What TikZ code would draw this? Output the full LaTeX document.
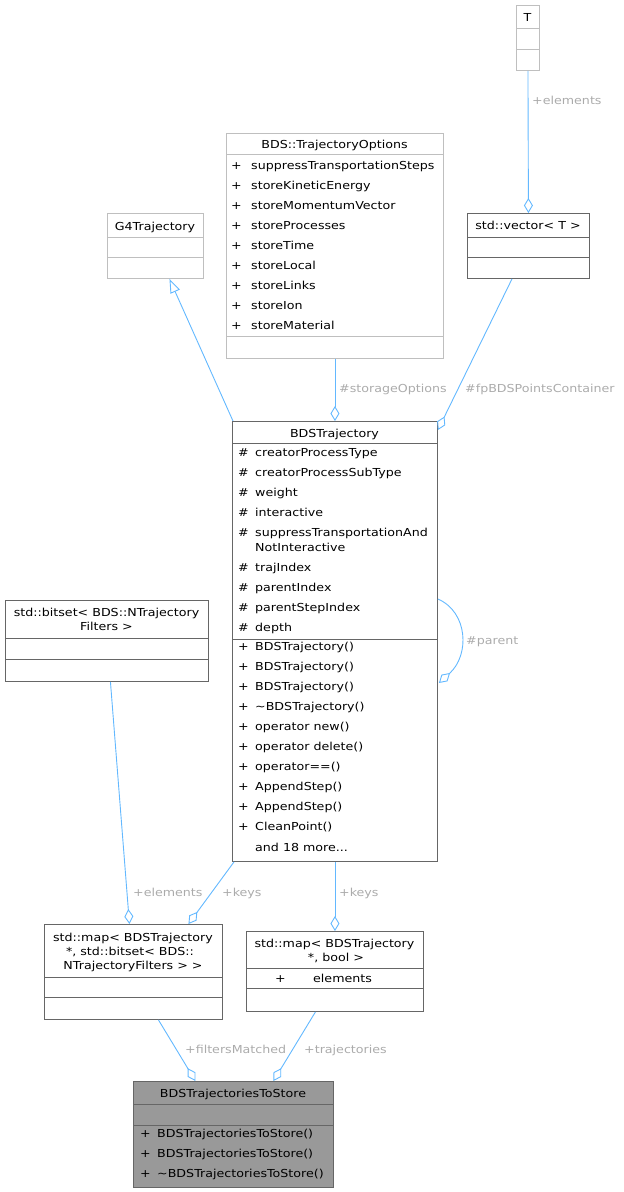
\documentclass[tikz,border=0pt]{standalone}
\usepackage{fontspec}
\newfontfamily\dv[FakeStretch=1.15]{DejaVu Sans}
\usetikzlibrary{arrows.meta,calc}
\definecolor{edgec}{HTML}{63B8FF}
\definecolor{lblc}{HTML}{ABABAB}
\definecolor{bdark}{HTML}{666666}
\definecolor{blight}{HTML}{BFBFBF}
\definecolor{selc}{HTML}{999999}
\begin{document}
\begin{tikzpicture}[x=1pt,y=-1pt,
  txt/.style={inner sep=0pt, font=\dv\fontsize{11}{13}\selectfont, text=black},
  fld/.style={txt, anchor=base west},
  ttl/.style={txt, anchor=base},
  lbl/.style={inner sep=0pt, font=\dv\fontsize{11}{13}\selectfont, text=lblc, anchor=base west},
  dbox/.style={draw=bdark, line width=0.9pt, inner sep=0pt, anchor=north west, rectangle},
  lbox/.style={dbox, draw=blight},
  dsep/.style={draw=bdark, line width=0.9pt},
  lsep/.style={draw=blight, line width=0.9pt},
  agg/.style={draw=edgec, line width=0.9pt, -{Diamond[open, length=15pt, width=9pt]}},
  inh/.style={draw=edgec, line width=0.9pt, -{Triangle[open, length=14pt, width=10pt]}},
]
\useasboundingbox (0,0) rectangle (624,1192);

% ---------- boxes ----------
\node[lbox, minimum width=23pt, minimum height=65pt] (tbox) at (516,5) {};
\node[dbox, minimum width=122pt, minimum height=65pt] (vec) at (467,213) {};
\node[lbox, minimum width=96pt, minimum height=65pt] (g4) at (107,213) {};
\node[lbox, minimum width=217pt, minimum height=225pt] (opt) at (226,133) {};
\node[dbox, minimum width=205pt, minimum height=440pt] (traj) at (232,421) {};
\node[dbox, minimum width=203pt, minimum height=81pt] (bits) at (5,600) {};
\node[dbox, minimum width=178pt, minimum height=95pt] (mapbs) at (44,924) {};
\node[dbox, minimum width=177pt, minimum height=80pt] (mapbool) at (246,931) {};
\node[dbox, fill=selc, minimum width=200pt, minimum height=106pt] (store) at (133,1081) {};

% ---------- separators ----------
\draw[lsep] (tbox.west |- 0,28) -- (tbox.east |- 0,28);
\draw[lsep] (tbox.west |- 0,49) -- (tbox.east |- 0,49);
\draw[dsep] (vec.west |- 0,237) -- (vec.east |- 0,237);
\draw[dsep] (vec.west |- 0,257) -- (vec.east |- 0,257);
\draw[lsep] (g4.west |- 0,237) -- (g4.east |- 0,237);
\draw[lsep] (g4.west |- 0,257) -- (g4.east |- 0,257);
\draw[lsep] (opt.west |- 0,154) -- (opt.east |- 0,154);
\draw[lsep] (opt.west |- 0,336) -- (opt.east |- 0,336);
\draw[dsep] (traj.west |- 0,443) -- (traj.east |- 0,443);
\draw[dsep] (traj.west |- 0,639) -- (traj.east |- 0,639);
\draw[dsep] (bits.west |- 0,638) -- (bits.east |- 0,638);
\draw[dsep] (bits.west |- 0,659) -- (bits.east |- 0,659);
\draw[dsep] (mapbs.west |- 0,977) -- (mapbs.east |- 0,977);
\draw[dsep] (mapbs.west |- 0,997) -- (mapbs.east |- 0,997);
\draw[dsep] (mapbool.west |- 0,968) -- (mapbool.east |- 0,968);
\draw[dsep] (mapbool.west |- 0,988) -- (mapbool.east |- 0,988);
\draw[dsep] (store.west |- 0,1104) -- (store.east |- 0,1104);
\draw[dsep] (store.west |- 0,1125) -- (store.east |- 0,1125);

% ---------- titles ----------
\node[ttl] (tT) at (527.5,21.5) {T};
\node[ttl] (tV) at (528,229) {std::vector< T >};
\node[ttl] (tG) at (155,230) {G4Trajectory};
\node[ttl] (tO) at (334.5,148) {BDS::TrajectoryOptions};
\node[ttl] (tR) at (334.5,437) {BDSTrajectory};
\node[ttl] (tB1) at (106.5,616) {std::bitset< BDS::NTrajectory};
\node[ttl] (tB2) at (106.5,630) {Filters >};
\node[ttl] (tM1) at (133,941) {std::map< BDSTrajectory};
\node[ttl] (tM2) at (130,955) { *, std::bitset< BDS::};
\node[ttl] (tM3) at (133,969) {NTrajectoryFilters > >};
\node[ttl] (tN1) at (334.5,947) {std::map< BDSTrajectory};
\node[ttl] (tN2) at (336,961) {*, bool >};
\node[ttl] (tS) at (233,1097) {BDSTrajectoriesToStore};

% ---------- TrajectoryOptions fields ----------
\foreach \t [count=\i] in {suppressTransportationSteps,storeKineticEnergy,storeMomentumVector,storeProcesses,storeTime,storeLocal,storeLinks,storeIon,storeMaterial}{
  \node[fld] (op\i) at (231,149+20*\i) {+};
  \node[fld] (on\i) at (251,149+20*\i) {\t};
}

% ---------- BDSTrajectory fields ----------
\node[fld] (rp1) at (238,456.7) {\#}; \node[fld] (rn1) at (255,456.7) {creatorProcessType};
\node[fld] (rp2) at (238,476.7) {\#}; \node[fld] (rn2) at (255,476.7) {creatorProcessSubType};
\node[fld] (rp3) at (238,496.7) {\#}; \node[fld] (rn3) at (255,496.7) {weight};
\node[fld] (rp4) at (238,516.7) {\#}; \node[fld] (rn4) at (255,516.7) {interactive};
\node[fld] (rp5) at (238,536.7) {\#}; \node[fld] (rn5) at (255,536.7) {suppressTransportationAnd};
\node[fld] (rn5b) at (255,551.7) {NotInteractive};
\node[fld] (rp6) at (238,571.7) {\#}; \node[fld] (rn6) at (255,571.7) {trajIndex};
\node[fld] (rp7) at (238,591.7) {\#}; \node[fld] (rn7) at (255,591.7) {parentIndex};
\node[fld] (rp8) at (238,611.7) {\#}; \node[fld] (rn8) at (255,611.7) {parentStepIndex};
\node[fld] (rp9) at (238,631.7) {\#}; \node[fld] (rn9) at (255,631.7) {depth};

\foreach \t [count=\i] in {BDSTrajectory(),BDSTrajectory(),BDSTrajectory(),\textasciitilde BDSTrajectory(),operator new(),operator delete(),operator==(),AppendStep(),AppendStep(),CleanPoint()}{
  \node[fld] (mp\i) at (238,630.7+20*\i) {+};
  \node[fld] (mn\i) at (255,630.7+20*\i) {\t};
}
\node[fld] (more) at (255,851.3) {and 18 more...};

% ---------- map bool field ----------
\node[fld] (bp1) at (275,982) {+};
\node[fld] (bn1) at (313,982) {elements};

% ---------- ToStore methods ----------
\node[fld] (sp1) at (140,1137) {+}; \node[fld] (sn1) at (157,1137) {BDSTrajectoriesToStore()};
\node[fld] (sp2) at (140,1157) {+}; \node[fld] (sn2) at (157,1157) {BDSTrajectoriesToStore()};
\node[fld] (sp3) at (140,1177) {+}; \node[fld] (sn3) at (157,1177) {\textasciitilde BDSTrajectoriesToStore()};

% ---------- connectors ----------
\draw[agg] (tbox.south) -- (vec.north);
\draw[agg] ($(vec.south west)+(45,0)$) -- ($(traj.north east)+(0,9)$);
\draw[agg] (opt.south) -- (traj.north);
\draw[inh] ($(traj.north west)+(1,0)$) -- ($(g4.south)+(14,0)$);
\draw[agg] ($(traj.north east)+(0,178)$) .. controls (468,612) and (470,655) .. ($(traj.north east)+(1,262)$);
\draw[agg] ($(bits.south)+(3.5,0)$) -- ($(mapbs.north)+(-4,0)$);
\draw[agg] ($(traj.south west)+(2,0)$) -- ($(mapbs.north)+(55,0)$);
\draw[agg] (traj.south) -- (mapbool.north);
\draw[agg] ($(mapbs.south)+(25,0)$) -- ($(store.north)+(-38,0)$);
\draw[agg] ($(mapbool.south)+(-19.5,0)$) -- ($(store.north)+(40,0)$);

% ---------- connector labels ----------
\node[lbl] (l1) at (532,104) {+elements};
\node[lbl] (l2) at (339,392) {\#storageOptions};
\node[lbl] (l3) at (465,392) {\#fpBDSPointsContainer};
\node[lbl] (l4) at (466,644) {\#parent};
\node[lbl] (l5) at (133,896) {+elements};
\node[lbl] (l6) at (222,896) {+keys};
\node[lbl] (l7) at (339,896) {+keys};
\node[lbl] (l8) at (185,1053) {+filtersMatched};
\node[lbl] (l9) at (304,1053) {+trajectories};
\end{tikzpicture}
\end{document}
